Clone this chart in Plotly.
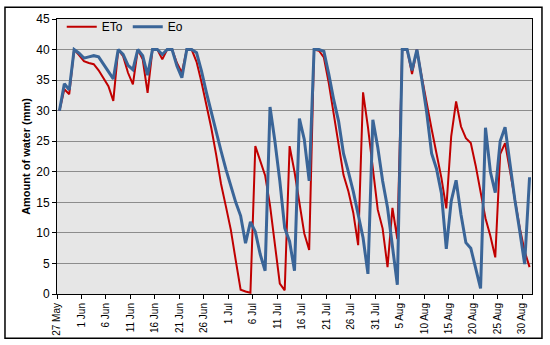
import plotly.graph_objects as go
import pandas as pd

start_date = "2013-05-27"
eto = [30.0, 33.5, 32.7, 40, 39.1, 38.1, 37.8, 37.6, 36.6, 35.4,
       34.0, 31.6, 40, 38.9, 36.2, 34.3, 40, 38.4, 32.9, 40,
       40, 38.4, 40, 40, 37.8, 36.2, 40, 40, 38.0, 34.7,
       31.0, 27.2, 22.8, 18.0, 14.3, 10.5, 5.5, 0.7, 0.4, 0.2,
       24.2, 21.8, 19.4, 14.5, 8.1, 1.7, 0.6, 24.2, 20.0, 15.1,
       9.9, 7.2, 40, 39.8, 38.7, 34.5, 29.7, 25.0, 19.5, 16.8,
       13.3, 8.0, 33.0, 27.3, 20.5, 13.8, 10.7, 4.4, 14.1, 9.0,
       40, 40, 36.0, 40, 35.5, 31.0, 27.0, 23.0, 19.0, 14.0,
       25.8, 31.5, 27.4, 25.5, 24.7, 21.0, 16.6, 12.4, 9.5, 6.0,
       22.9, 24.7, 20.2, 15.6, 10.8, 7.0, 4.4]
eo = [30.0, 34.4, 33.4, 40, 39.4, 38.6, 38.8, 39.0, 38.8, 37.6,
      36.4, 35.2, 40, 39.2, 37.4, 36.7, 40, 39.0, 35.8, 40,
      40, 39.2, 40, 40, 37.3, 35.4, 40, 40, 39.5, 36.5,
      33.0, 29.7, 26.5, 23.4, 20.4, 17.7, 15.0, 12.8, 8.3, 11.8,
      10.2, 6.5, 3.8, 30.6, 25.0, 18.5, 10.8, 8.6, 3.8, 28.7,
      25.3, 18.5, 40, 40, 39.7, 36.0, 31.8, 28.3, 23.0, 20.0,
      16.8, 13.0, 9.2, 3.3, 28.5, 24.0, 18.5, 14.1, 8.2, 1.5,
      40, 40, 36.6, 40, 35.1, 29.7, 23.0, 20.5, 16.5, 7.4,
      15.2, 18.6, 13.0, 8.4, 7.5, 4.4, 0.9, 27.2, 20.0, 16.6,
      25.0, 27.3, 21.3, 15.4, 10.3, 4.9, 19.1]
tick_labels = ["27 May", "1 Jun", "6 Jun", "11 Jun", "16 Jun", "21 Jun", "26 Jun",
               "1 Jul", "6 Jul", "11 Jul", "16 Jul", "21 Jul", "26 Jul", "31 Jul",
               "5 Aug", "10 Aug", "15 Aug", "20 Aug", "25 Aug", "30 Aug"]
y_ticks = [0, 5, 10, 15, 20, 25, 30, 35, 40, 45]

assert len(eto) == len(eo) == 97

dates = pd.date_range(start_date + " 12:00", periods=len(eto), freq="D")
tick_vals = pd.date_range(start_date, periods=len(tick_labels), freq="5D")

fig = go.Figure()
fig.add_trace(go.Scatter(x=dates, y=eto, mode="lines", name="ETo",
                         line=dict(color="#C00000", width=2)))
fig.add_trace(go.Scatter(x=dates, y=eo, mode="lines", name="Eo",
                         line=dict(color="#3A6598", width=3)))

font = "Liberation Sans, Arial, sans-serif"
fig.update_layout(
    width=550, height=345,
    margin=dict(l=57, r=18, t=15, b=51),
    paper_bgcolor="white",
    plot_bgcolor="#E6E6E6",
    font=dict(family=font, size=11, color="black"),
    showlegend=True,
    legend=dict(orientation="h", x=0.01, y=1.025, xanchor="left", yanchor="top",
                bgcolor="rgba(0,0,0,0)", font=dict(size=12), itemwidth=30,
                traceorder="normal"),
    xaxis=dict(
        type="date", automargin=False,
        range=[start_date, "2013-09-01"],
        tickvals=list(tick_vals), ticktext=tick_labels,
        tickangle=-90, tickfont=dict(size=10),
        ticks="outside", ticklen=4, tickcolor="black",
        showgrid=False, showline=True, linecolor="black", linewidth=1,
        mirror=True, zeroline=False,
    ),
    yaxis=dict(
        automargin=False,
        range=[0, 45], tickvals=y_ticks,
        tickfont=dict(size=12),
        ticks="outside", ticklen=4, tickcolor="black",
        showgrid=True, gridcolor="#8C8C8C", gridwidth=1.2,
        showline=True, linecolor="black", linewidth=1, mirror=True,
        zeroline=False,
        title=dict(text="<b>Amount of water (mm)</b>", font=dict(size=11), standoff=3),
    ),
    shapes=[dict(type="rect", xref="paper", yref="paper",
                 x0=-0.1095, x1=1.021, y0=-0.1613, y1=1.043,
                 line=dict(color="black", width=1.5), layer="below")],
)

fig.write_html("out.html", config={"displayModeBar": False},
               post_script="document.body.style.margin='0';document.body.style.padding='0';")
